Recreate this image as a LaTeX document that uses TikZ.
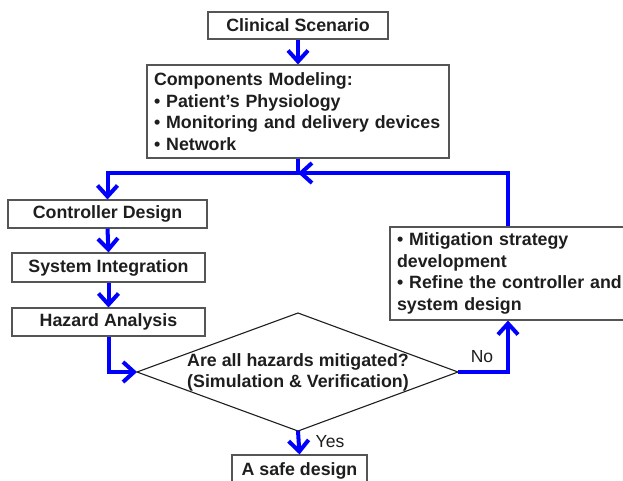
\documentclass[tikz,border=0pt]{standalone}
\usepackage{fontspec}
\setmainfont{Liberation Sans}
\usetikzlibrary{arrows.meta,calc}
\definecolor{flow}{RGB}{0,0,255}
\definecolor{boxline}{RGB}{85,85,85}
\definecolor{ink}{RGB}{30,30,30}
\tikzset{
  box/.style={draw=boxline, line width=1.1pt, text=ink, inner sep=0pt,
    font=\fontsize{17.8}{21.5}\selectfont\bfseries},
  listbox/.style={box, align=left, inner xsep=7pt},
  arr/.style={draw=flow, line width=4pt, -{Straight Barb[length=11pt,width=20pt]}},
  lbl/.style={text=ink, font=\fontsize{17.5}{20}\selectfont, inner sep=0pt},
}
\begin{document}
\begin{tikzpicture}[x=1pt,y=-1pt]
\clip (0,0) rectangle (623,480);
\fill[white] (0,0) rectangle (623,480);

\node[box, minimum width=180pt, minimum height=27pt] (clin) at (298,25.5) {Clinical Scenario};
\node[listbox, minimum width=302pt, minimum height=93pt, text width=288pt] (comp) at (298,111.5)
  {Components Modeling:\\ • Patient’s Physiology\\ • Monitoring and delivery devices\\ • Network};
\node[box, minimum width=199pt, minimum height=28pt] (ctrl) at (107.5,214) {Controller Design};
\node[box, minimum width=193pt, minimum height=29pt] (sys) at (108.5,267.5) {System Integration};
\node[box, minimum width=193pt, minimum height=28pt] (haz) at (108.5,322) {Hazard Analysis};
\node[listbox, minimum width=252pt, minimum height=93pt, text width=238pt] (mit) at (516,273.5)
  {• Mitigation strategy\\ development\\ • Refine the controller and\\ system design};

% diamond
\coordinate (dW) at (137,372);
\coordinate (dN) at (298,313);
\coordinate (dE) at (458,372);
\coordinate (dS) at (298,431);
\draw[ink, line width=1.1pt] (dW) -- (dN) -- (dE) -- (dS) -- cycle;
\node[text=ink, align=center, inner sep=0pt, font=\fontsize{17.8}{21}\selectfont\bfseries] (dia) at (298,372.5)
  {Are all hazards mitigated?\\ (Simulation \& Verification)};

\node[box, minimum width=135pt, minimum height=32pt] (safe) at (299.5,471) {A safe design};

\coordinate (loopy) at (298,173);
\coordinate (nocorner) at (508,372);

\draw[arr] (clin.south) -- (comp.north);
\draw[arr] (comp.south) -- (loopy) -| (ctrl.north);
\draw[arr] (ctrl.south) -- (sys.north);
\draw[arr] (sys.south) -- (haz.north);
\draw[arr] (haz.south) |- (dW);
\draw[arr] (dS) -- (safe.north);
\draw[arr] (dE) -- (nocorner) -- (mit.south -| nocorner);
\draw[arr] (mit.north -| nocorner) |- (loopy);

\node[lbl] (yes) at (330,442) {Yes};
\node[lbl] (no) at (482,357) {No};
\end{tikzpicture}
\end{document}
